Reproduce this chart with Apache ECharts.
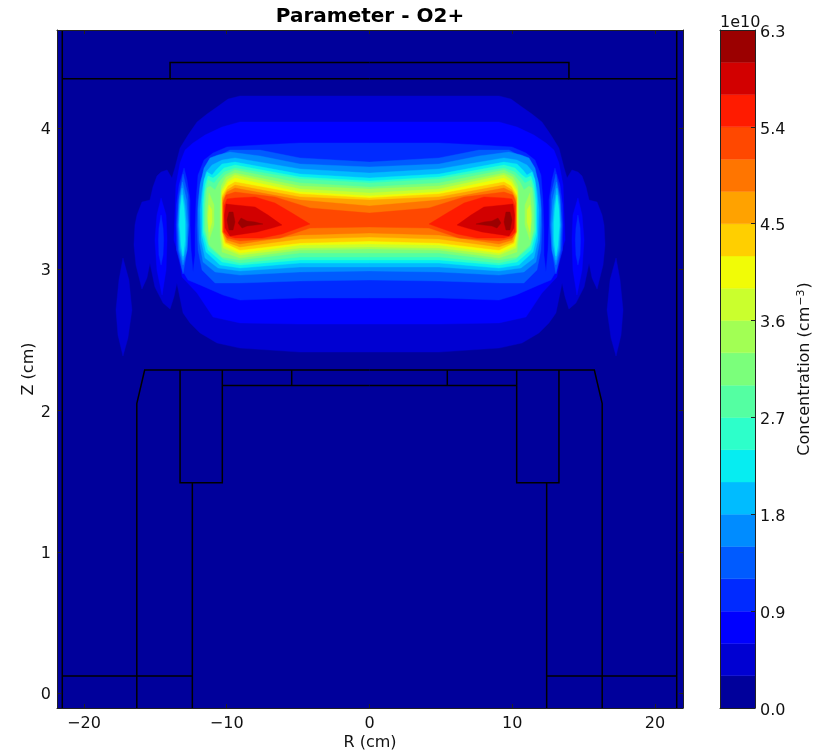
<!DOCTYPE html>
<html>
<head>
<meta charset="utf-8">
<style>html,body{margin:0;padding:0;background:#fff}#c{width:825px;height:752px}</style>
<script src="https://cdn.jsdelivr.net/npm/echarts@6/dist/echarts.min.js"></script>
</head>
<body>
<div id="c"></div>
<script>
// Colour scale
const levels = [0,0.3,0.6,0.9,1.2,1.5,1.8,2.1,2.4,2.7,3.0,3.3,3.6,3.9,4.2,4.5,4.8,5.1,5.4,5.7,6.0,6.3];
const levelColors = ['#00009b','#0000d2','#0000ff','#002aff','#005bff','#008cff','#00bcff','#06edf1','#2dffca','#54ffa2','#7bff7b','#a2ff54','#caff2d','#f1fc06','#ffcf00','#ffa200','#ff7500','#ff4800','#ff1b00','#d20000','#9b0000'];
const rTicks = [-20,-10,0,10,20];
const zTicks = [0,1,2,3,4];
const barTicks = [0,0.9,1.8,2.7,3.6,4.5,5.4,6.3];
const rRange = [-21.89,21.96];
const zRange = [-0.106,4.694];

// Left-half contour outlines [R,Z] per level (mirrored about R=0).
const level0 = [[[0,4.694],[-22.5,4.694],[-22.5,-0.106],[0,-0.106]]];
const level1 = [
 [[0,4.227],[-4.87,4.227],[-9.07,4.227],[-9.91,4.205],[-10.68,4.149],[-11.38,4.099],[-12.08,4.043],[-12.71,3.950],[-13.27,3.859],[-13.63,3.717],[-13.84,3.646],[-14.18,3.703],[-14.60,3.688],[-14.89,3.660],[-15.17,3.582],[-15.38,3.490],[-15.94,3.476],[-16.29,3.384],[-16.43,3.313],[-16.50,3.172],[-16.36,3.030],[-15.94,2.860],[-15.59,2.938],[-15.38,3.044],[-15.03,2.874],[-14.46,2.761],[-13.97,2.719],[-13.70,2.804],[-13.49,2.903],[-13.06,2.690],[-12.57,2.620],[-11.87,2.549],[-10.68,2.478],[-9.07,2.442],[-4.87,2.414],[0,2.414]],
 [[-17.27,3.080],[-17.55,2.924],[-17.76,2.712],[-17.62,2.535],[-17.27,2.386],[-16.92,2.513],[-16.64,2.712],[-16.85,2.924]]
];
const level2 = [
 [[0,4.043],[-4.87,4.043],[-9.07,4.043],[-10.33,4.007],[-11.52,3.950],[-12.36,3.894],[-12.92,3.844],[-13.27,3.752],[-13.56,3.596],[-13.66,3.313],[-13.70,3.207],[-13.41,3.115],[-13.13,2.945],[-12.08,2.832],[-10.96,2.662],[-9.07,2.620],[-4.87,2.612],[0,2.612]],
 [[-14.60,3.505],[-14.89,3.384],[-15.03,3.207],[-14.89,2.995],[-14.53,2.818],[-14.25,2.995],[-14.18,3.207],[-14.25,3.384]]
];
const level3 = [
 [[0,3.894],[-4.87,3.894],[-7.67,3.880],[-9.98,3.866],[-10.96,3.823],[-11.59,3.773],[-12.01,3.667],[-12.15,3.490],[-12.22,3.278],[-12.22,3.101],[-12.36,2.981],[-12.50,3.136],[-12.57,3.313],[-12.57,3.490],[-12.78,3.632],[-12.99,3.717],[-13.34,3.596],[-13.52,3.455],[-13.56,3.313],[-13.52,3.136],[-13.13,2.995],[-12.71,2.924],[-11.87,2.889],[-10.26,2.818],[-9.07,2.782],[-4.87,2.797],[0,2.797]],
 [[-14.60,3.384],[-14.75,3.292],[-14.78,3.207],[-14.75,3.101],[-14.60,3.030],[-14.46,3.101],[-14.42,3.207],[-14.46,3.292]]
];
const level4 = [
 [[0,3.759],[-4.87,3.788],[-7.67,3.844],[-9.77,3.844],[-10.82,3.788],[-11.38,3.738],[-11.80,3.632],[-12.01,3.490],[-12.08,3.313],[-12.01,3.136],[-11.73,2.995],[-10.82,2.903],[-9.07,2.903],[-4.87,2.917],[0,2.924]],
 [[-13.06,3.674],[-13.34,3.526],[-13.49,3.313],[-13.41,3.136],[-13.06,2.967],[-12.78,3.136],[-12.64,3.313],[-12.71,3.526]]
];
const level5 = [
 [[0,3.724],[-4.87,3.745],[-7.67,3.802],[-9.77,3.830],[-10.61,3.809],[-11.17,3.788],[-11.59,3.717],[-11.87,3.596],[-12.01,3.420],[-11.94,3.207],[-11.66,3.051],[-10.82,2.981],[-9.07,2.959],[-4.87,2.981],[0,2.988]],
 [[-13.10,3.618],[-13.34,3.490],[-13.41,3.313],[-13.34,3.136],[-13.06,3.030],[-12.78,3.136],[-12.71,3.313],[-12.82,3.490]]
];
const level6 = [
 [[0,3.681],[-4.87,3.710],[-9.42,3.788],[-10.33,3.773],[-11.03,3.738],[-11.45,3.688],[-11.73,3.561],[-11.87,3.420],[-11.80,3.207],[-11.52,3.080],[-10.61,3.009],[-9.07,2.988],[-4.87,3.016],[0,3.016]],
 [[-13.13,3.575],[-13.30,3.455],[-13.36,3.313],[-13.27,3.151],[-13.06,3.066],[-12.85,3.172],[-12.82,3.313],[-12.92,3.455]]
];
const level7 = [
 [[0,3.646],[-4.87,3.674],[-9.42,3.759],[-10.33,3.745],[-10.75,3.703],[-11.03,3.667],[-11.38,3.688],[-11.59,3.632],[-11.73,3.490],[-11.73,3.243],[-11.45,3.122],[-10.47,3.030],[-9.07,3.009],[-4.87,3.044],[0,3.044]],
 [[-13.13,3.526],[-13.27,3.420],[-13.30,3.313],[-13.20,3.172],[-13.06,3.094],[-12.92,3.207],[-12.92,3.335],[-12.99,3.434]]
];
const level8 = [
 [[0,3.625],[-4.87,3.653],[-9.42,3.738],[-10.19,3.717],[-10.68,3.667],[-10.96,3.646],[-11.31,3.660],[-11.52,3.596],[-11.66,3.455],[-11.66,3.264],[-11.31,3.136],[-10.33,3.051],[-9.07,3.030],[-4.87,3.066],[0,3.066]]
];
const level9 = [
 [[0,3.611],[-4.87,3.639],[-9.42,3.717],[-10.19,3.688],[-10.61,3.646],[-10.89,3.611],[-11.31,3.632],[-11.52,3.547],[-11.59,3.420],[-11.59,3.278],[-11.24,3.158],[-10.26,3.073],[-9.07,3.044],[-4.87,3.087],[0,3.087]]
];
const level10 = [
 [[0,3.582],[-4.87,3.611],[-9.42,3.703],[-10.12,3.667],[-10.54,3.618],[-10.82,3.561],[-11.17,3.589],[-11.38,3.575],[-11.49,3.455],[-11.49,3.278],[-11.24,3.172],[-10.33,3.087],[-9.07,3.066],[-4.87,3.115],[0,3.115]]
];
const level11 = [
 [[0,3.568],[-4.87,3.589],[-9.42,3.681],[-10.05,3.653],[-10.40,3.589],[-10.47,3.420],[-10.47,3.243],[-10.33,3.122],[-9.07,3.080],[-4.87,3.136],[0,3.144]],
 [[-11.24,3.540],[-11.38,3.384],[-11.24,3.207],[-10.89,3.313],[-10.89,3.455]]
];
const level12 = [
 [[0,3.540],[-4.87,3.568],[-9.42,3.667],[-9.98,3.632],[-10.36,3.561],[-10.40,3.384],[-10.40,3.243],[-10.26,3.151],[-9.07,3.101],[-4.87,3.151],[0,3.158]],
 [[-11.24,3.455],[-11.31,3.349],[-11.24,3.264],[-11.03,3.335],[-11.03,3.420]]
];
const level13 = [[[0,3.519],[-4.87,3.547],[-9.42,3.646],[-9.91,3.618],[-10.33,3.547],[-10.33,3.278],[-10.19,3.165],[-9.07,3.115],[-4.87,3.172],[0,3.179]]];
const level14 = [[[0,3.505],[-4.87,3.533],[-9.42,3.618],[-9.91,3.589],[-10.33,3.519],[-10.33,3.278],[-10.12,3.186],[-9.07,3.136],[-4.87,3.186],[0,3.200]]];
const level15 = [[[0,3.490],[-4.87,3.512],[-9.42,3.596],[-9.98,3.561],[-10.30,3.505],[-10.30,3.264],[-10.05,3.193],[-9.07,3.158],[-4.87,3.214],[0,3.228]]];
const level16 = [[[0,3.448],[-4.87,3.490],[-9.42,3.575],[-9.98,3.547],[-10.26,3.490],[-10.26,3.264],[-9.98,3.207],[-9.07,3.179],[-4.87,3.243],[0,3.257]]];
const level17 = [[[0,3.398],[-4.17,3.434],[-6.62,3.512],[-9.42,3.547],[-10.05,3.526],[-10.26,3.469],[-10.26,3.264],[-9.98,3.221],[-9.07,3.200],[-6.27,3.221],[-4.17,3.292],[0,3.299]]];
const level18 = [[[-4.17,3.320],[-5.43,3.398],[-6.62,3.469],[-8.02,3.512],[-9.42,3.505],[-9.98,3.498],[-10.19,3.448],[-10.19,3.264],[-9.91,3.236],[-9.42,3.221],[-7.53,3.221],[-6.13,3.250],[-5.15,3.285]]];
const level19 = [[[-6.13,3.313],[-7.11,3.384],[-8.02,3.441],[-9.42,3.455],[-10.05,3.462],[-10.16,3.384],[-10.12,3.292],[-9.77,3.236],[-7.88,3.264],[-6.83,3.292]]];
const level20 = [
 [[-9.84,3.405],[-9.98,3.349],[-9.84,3.278],[-9.56,3.278],[-9.42,3.335],[-9.56,3.405]],
 [[-9.00,3.363],[-9.21,3.327],[-8.93,3.292],[-8.58,3.306],[-8.02,3.313],[-7.46,3.320],[-8.02,3.335],[-8.58,3.342]]
];
const contourSets = [level0,level1,level2,level3,level4,level5,level6,level7,level8,level9,level10,level11,level12,level13,level14,level15,level16,level17,level18,level19,level20];

// Reactor geometry outlines [R,Z], left half (mirrored)
const wallOuter = [[-21.52,-0.2],[-21.52,4.8]];
const wallTop = [[-21.52,4.349],[-13.97,4.349],[-13.97,4.464],[0,4.464]];
const wallTopLine = [[-13.97,4.349],[0,4.349]];
const foot = [[-21.52,0.12],[-12.38,0.12]];
const column = [[-16.3,-0.2],[-16.3,2.05],[-15.75,2.287],[0,2.287]];
const coilBox = [[-13.27,2.287],[-13.27,1.489],[-10.31,1.489],[-10.31,2.287]];
const coilStem = [[-12.41,1.489],[-12.41,-0.2]];
const plate = [[-10.31,2.178],[0,2.178]];
const plateStep = [[-5.45,2.287],[-5.45,2.178]];
const geometry = [wallOuter,wallTop,wallTopLine,foot,column,coilBox,coilStem,plate,plateStep];

const polys = [];
contourSets.forEach((set, lv) => set.forEach(o => {
  const mirror = o.map(p => [-p[0], p[1]]);
  if (o[0][0] === 0) polys.push({lv, pts: o.concat(mirror.reverse().slice(1, -1))});
  else { polys.push({lv, pts: o}); polys.push({lv, pts: mirror}); }
}));
const segs = [];
geometry.forEach(g => { segs.push(g); segs.push(g.map(p => [-p[0], p[1]])); });

const FONT = 'DejaVu Sans';
const txt = {fontFamily: FONT, fontSize: 16, color: '#111'};
const frame = {show: true, lineStyle: {color: '#222', width: 1}};
const minus = v => String(v).replace('-', '\u2212');

function axisBase(extra) {
  return Object.assign({type: 'value', z: 10, splitLine: {show: false}, axisLine: Object.assign({onZero: false}, frame)}, extra);
}
const noLabel = {show: false};
const option = {
  animation: false,
  backgroundColor: '#fff',
  title: [
    {text: 'Parameter - O2+', left: 370, top: 7, padding: 0, textAlign: 'center', textStyle: {fontFamily: FONT, fontSize: 20, fontWeight: 'bold', color: '#000'}},
    {text: '1e10', left: 720, top: 15, padding: 0, textStyle: {fontFamily: FONT, fontSize: 16, fontWeight: 'normal', color: '#111'}}
  ],
  grid: [
    {left: 57, top: 30, width: 626, height: 678, outerBoundsMode: 'none'},
    {left: 720, top: 30, width: 35, height: 678, outerBoundsMode: 'none'}
  ],
  xAxis: [
    axisBase({gridIndex: 0, position: 'bottom', min: rRange[0], max: rRange[1], name: 'R (cm)', nameLocation: 'middle', nameGap: 27, nameMoveOverlap: false, nameTextStyle: txt,
      axisTick: {inside: true, length: 4, customValues: rTicks, lineStyle: {color: '#222'}},
      axisLabel: Object.assign({customValues: rTicks, margin: 8, formatter: minus, showMinLabel: true, showMaxLabel: true}, txt)}),
    axisBase({gridIndex: 0, position: 'top', min: rRange[0], max: rRange[1],
      axisTick: {inside: true, length: 4, customValues: rTicks, lineStyle: {color: '#222'}}, axisLabel: noLabel}),
    axisBase({gridIndex: 1, position: 'bottom', min: 0, max: 1, axisTick: {show: false}, axisLabel: noLabel}),
    axisBase({gridIndex: 1, position: 'top', min: 0, max: 1, axisTick: {show: false}, axisLabel: noLabel})
  ],
  yAxis: [
    axisBase({gridIndex: 0, position: 'left', min: zRange[0], max: zRange[1], name: 'Z (cm)', nameLocation: 'middle', nameGap: 20, nameMoveOverlap: false, nameTextStyle: txt,
      axisTick: {inside: true, length: 4, customValues: zTicks, lineStyle: {color: '#222'}},
      axisLabel: Object.assign({customValues: zTicks, margin: 6, verticalAlign: 'top', lineHeight: 4}, txt)}),
    axisBase({gridIndex: 0, position: 'right', min: zRange[0], max: zRange[1],
      axisTick: {inside: true, length: 4, customValues: zTicks, lineStyle: {color: '#222'}}, axisLabel: noLabel}),
    axisBase({gridIndex: 1, position: 'right', min: 0, max: 6.3, name: '{a|Concentration (cm}{s|\u22123}{a|)}', nameLocation: 'middle', nameRotate: 90, nameGap: 41, nameMoveOverlap: false,
      nameTextStyle: Object.assign({}, txt, {rich: {a: txt, s: {fontFamily: FONT, fontSize: 11, color: '#111', padding: [0, 1, 7, 1]}}}),
      axisTick: {inside: true, length: 4, customValues: barTicks, lineStyle: {color: '#222'}},
      axisLabel: Object.assign({customValues: barTicks, margin: 5, verticalAlign: 'top', lineHeight: 5, formatter: v => v.toFixed(1)}, txt)}),
    axisBase({gridIndex: 1, position: 'left', min: 0, max: 6.3, axisTick: {show: false}, axisLabel: noLabel})
  ],
  series: [
    {
      type: 'custom', coordinateSystem: 'cartesian2d', xAxisIndex: 0, yAxisIndex: 0, clip: true, silent: true, z: 2,
      encode: {x: 0, y: 1},
      data: polys.map((p, i) => [p.pts[0][0], p.pts[0][1], i]),
      renderItem(params, api) {
        const p = polys[api.value(2)];
        return {type: 'polygon', shape: {points: p.pts.map(q => api.coord(q))}, style: {fill: levelColors[p.lv], stroke: levelColors[p.lv], lineWidth: 0.4}};
      }
    },
    {
      type: 'custom', coordinateSystem: 'cartesian2d', xAxisIndex: 0, yAxisIndex: 0, clip: true, silent: true, z: 3,
      encode: {x: 0, y: 1},
      data: segs.map((s, i) => [s[0][0], s[0][1], i]),
      renderItem(params, api) {
        const s = segs[api.value(2)];
        return {type: 'polyline', shape: {points: s.map(q => api.coord(q))}, style: {fill: 'none', stroke: '#000', lineWidth: 1.5}};
      }
    },
    {
      type: 'custom', coordinateSystem: 'cartesian2d', xAxisIndex: 2, yAxisIndex: 2, clip: true, silent: true, z: 2,
      encode: {x: 0, y: 1},
      data: levelColors.map((c, i) => [0, levels[i], levels[i + 1], i]),
      renderItem(params, api) {
        const a = api.coord([0, api.value(1)]), b = api.coord([1, api.value(2)]);
        return {type: 'rect', shape: {x: a[0], y: b[1], width: b[0] - a[0], height: a[1] - b[1]}, style: {fill: levelColors[api.value(3)], stroke: levelColors[api.value(3)], lineWidth: 0.4}};
      }
    }
  ]
};
echarts.init(document.getElementById('c'), null, {renderer: 'canvas'}).setOption(option);
</script>
</body>
</html>
